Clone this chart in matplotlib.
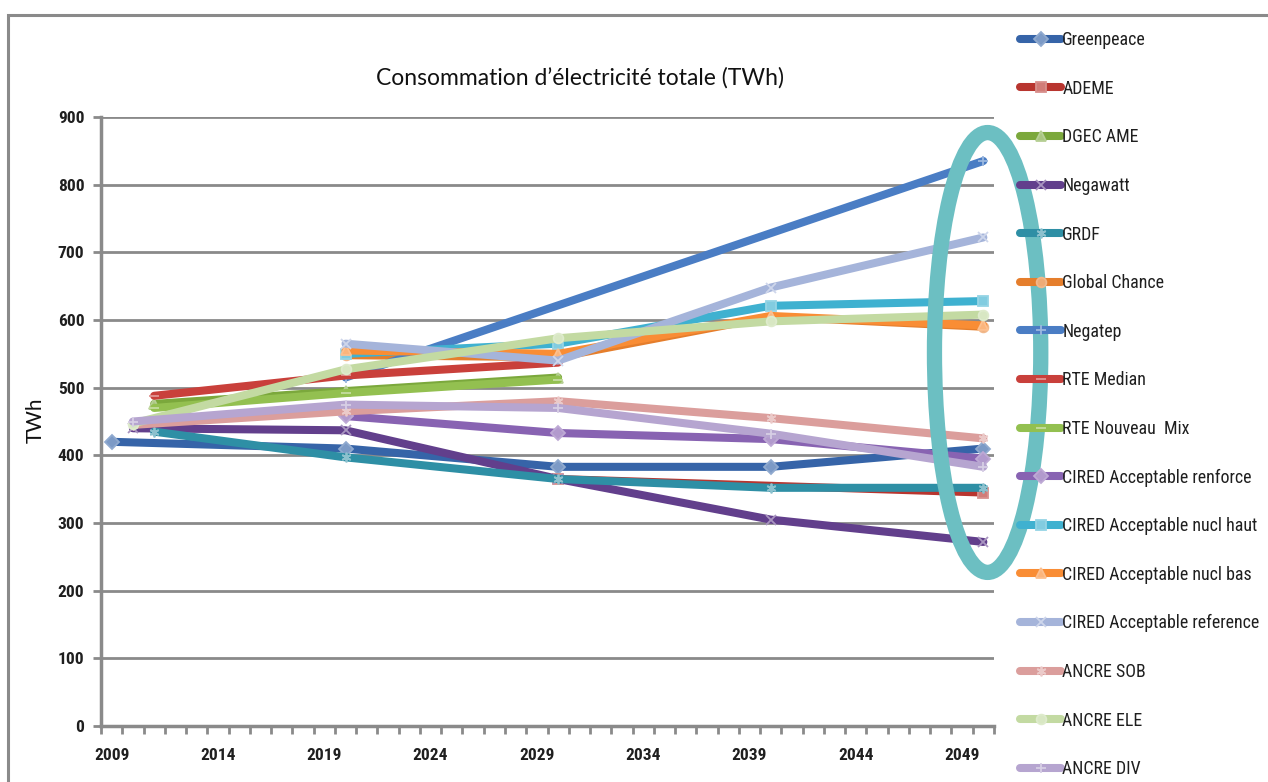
import numpy as np
import matplotlib
matplotlib.use("Agg")
import matplotlib.pyplot as plt
from matplotlib.patches import Ellipse, Rectangle
from matplotlib import font_manager as fm
from matplotlib.font_manager import FontProperties
from matplotlib.colors import to_rgb

# ---------------- data ----------------
years = [2009, 2010, 2011, 2020, 2030, 2040, 2050]
nan = np.nan
greenpeace      = [420, nan, nan, 410, 383, 383, 410]
ademe           = [nan, nan, nan, nan, 365, nan, 345]
dgec_ame        = [nan, nan, 476, 495, 515, nan, nan]
negawatt        = [nan, 440, nan, 437, 365, 305, 272]
grdf            = [nan, nan, 435, 397, 365, 352, 352]
global_chance   = [nan, nan, nan, 548, 545, 605, 590]
negatep         = [nan, nan, nan, 515, nan, nan, 835]
rte_median      = [nan, nan, 488, 518, 537, nan, nan]
rte_nouveau_mix = [nan, nan, 470, 492, 512, nan, nan]
cired_renforce  = [nan, nan, nan, 458, 433, 424, 395]
cired_nucl_haut = [nan, nan, nan, 550, 565, 621, 628]
cired_nucl_bas  = [nan, nan, nan, 555, 550, 606, 592]
cired_reference = [nan, nan, nan, 565, 540, 648, 722]
ancre_sob       = [nan, 445, nan, 465, 480, 455, 425]
ancre_ele       = [nan, 447, nan, 527, 573, 598, 608]
ancre_div       = [nan, 450, nan, 475, 470, 432, 383]

series_names = ["Greenpeace", "ADEME", "DGEC AME", "Negawatt", "GRDF", "Global Chance",
                "Negatep", "RTE Median", "RTE Nouveau  Mix", "CIRED Acceptable renforce",
                "CIRED Acceptable nucl haut", "CIRED Acceptable nucl bas",
                "CIRED Acceptable reference", "ANCRE SOB", "ANCRE ELE", "ANCRE DIV"]
series_values = [greenpeace, ademe, dgec_ame, negawatt, grdf, global_chance, negatep,
                 rte_median, rte_nouveau_mix, cired_renforce, cired_nucl_haut,
                 cired_nucl_bas, cired_reference, ancre_sob, ancre_ele, ancre_div]

title = "Consommation d\u2019\u00e9lectricit\u00e9 totale (TWh)"
y_ticks = list(range(0, 901, 100))
x_label_years = list(range(2009, 2050, 5))

# ---------------- styles ----------------
colors = ["#3664A8", "#B8352F", "#7BA83C", "#623F8C", "#2E8FA5", "#E57E2C",
          "#4A7DC4", "#C9403B", "#93C050", "#8863B2", "#3FB1D0", "#F98D35",
          "#A5B4DA", "#DB9E9C", "#C3DAA2", "#B6A5D0"]
markers = ["D", "s", "^", "x", (6, 2, 0), "o", "+", "_", "_",
           "D", "s", "^", "x", (6, 2, 0), "o", "+"]


def lighten(c, f):
    r, g, b = to_rgb(c)
    return (r + (1 - r) * f, g + (1 - g) * f, b + (1 - b) * f)


names = {f.name for f in fm.fontManager.ttflist}


def pick_condensed():
    for fam in ["Liberation Sans Narrow", "Roboto Condensed", "Open Sans Condensed",
                "Noto Sans Condensed", "DejaVu Sans Condensed", "Arial Narrow"]:
        if fam in names:
            return FontProperties(family=fam), True
    cands = []
    for f in fm.fontManager.ttflist:
        st = str(f.stretch)
        if (st in ("condensed", "semi-condensed", "extra-condensed")
                or "Condensed" in f.fname or "Narrow" in f.fname):
            if f.style == "normal":
                cands.append(f)
    pref = ["Liberation Sans Narrow", "Roboto", "Open Sans", "Noto Sans", "DejaVu Sans"]
    for p in pref:
        for f in cands:
            if f.name.startswith(p) and f.weight in (400, "normal", "regular"):
                return FontProperties(fname=f.fname), True
    for f in cands:
        return FontProperties(fname=f.fname), True
    return FontProperties(family="Lato" if "Lato" in names else "DejaVu Sans"), False


cond_fp, is_cond = pick_condensed()
title_font = "Lato" if "Lato" in names else "DejaVu Sans"

W, H = 1268, 782
fig = plt.figure(figsize=(W / 100, H / 100), dpi=100)
fig.patch.set_facecolor("white")

# outer chart frame
fig.add_artist(Rectangle((8 / W, -0.05), 1.2, 1 - 15 / H + 0.05, transform=fig.transFigure,
                         fill=False, ec="#8a8a8a", lw=2.2))

ax = fig.add_axes([101 / W, 56 / H, 893 / W, 609 / H])
ax.set_xlim(2008.5, 2050.5)
ax.set_ylim(0, 900)

for name, vals, c, m in zip(series_names, series_values, colors, markers):
    v = np.array(vals, dtype=float)
    x = np.array(years, dtype=float)
    ok = ~np.isnan(v)
    ax.plot(x[ok], v[ok], color=c, lw=5.8, marker=m, ms=7, mew=1.3,
            mfc=lighten(c, 0.35), mec=lighten(c, 0.45),
            solid_joinstyle="round", solid_capstyle="round", label=name)

# axes styling
for s in ["top", "right"]:
    ax.spines[s].set_visible(False)
for s in ["left", "bottom"]:
    ax.spines[s].set_color("#8a8a8a")
    ax.spines[s].set_linewidth(2.5)
ax.set_yticks(y_ticks)
ax.yaxis.grid(True, color="#8a8a8a", lw=2.0)
ax.set_axisbelow(True)
tick_size = 12.5 if is_cond else 11.5
ax.tick_params(axis="y", length=6, width=2, color="#8a8a8a", pad=6, labelcolor="#1f1f1f")
ax.set_xticks(x_label_years)
ax.set_xticklabels([str(y) for y in x_label_years])
ax.set_xticks(np.arange(2008.5, 2051, 1.0), minor=True)
ax.tick_params(axis="x", which="major", length=0, pad=16, labelcolor="#1f1f1f")
ax.tick_params(axis="x", which="minor", length=6, width=2, color="#8a8a8a")
for lab in ax.get_xticklabels() + ax.get_yticklabels():
    lab.set_fontproperties(cond_fp)
    lab.set_fontsize(tick_size)
    lab.set_fontweight("bold")

# highlight ellipse around 2050
ax.add_patch(Ellipse((2050.2, 552), width=5.0, height=650, fill=False,
                     ec="#6CBFC2", lw=11, clip_on=False, zorder=20))

fig.text(580 / W, 1 - 78 / H, title, ha="center", va="center", fontsize=16.5,
         family=title_font, color="#111111")
fig.text(36 / W, 1 - 420 / H, "TWh", rotation=90, ha="center", va="center",
         fontsize=15, family=title_font, color="#111111")

# legend: fit the width and match the row pitch of the reference
target_pitch = 48.6
leg_size = 13.5 if is_cond else 12.0
spacing = 1.9
renderer = fig.canvas.get_renderer()
for it in range(8):
    fp = cond_fp.copy()
    fp.set_size(leg_size)
    fs_px = leg_size * 100 / 72
    leg = fig.legend(loc="upper left", bbox_to_anchor=(1013 / W, 1 - 24 / H),
                     frameon=False, handlelength=41 / fs_px, labelspacing=spacing,
                     handletextpad=1 / fs_px, borderaxespad=0, prop=fp)
    for t in leg.get_texts():
        t.set_color("#1f1f1f")
    fig.canvas.draw()
    texts = leg.get_texts()
    right = max(t.get_window_extent(renderer).x1 for t in texts)
    y0 = texts[0].get_window_extent(renderer).y0
    y1 = texts[-1].get_window_extent(renderer).y0
    pitch = (y0 - y1) / (len(texts) - 1)
    changed = False
    if right > W - 8:
        leg_size *= (W - 8 - 1062) / (right - 1062)
        changed = True
    if abs(pitch - target_pitch) > 0.3:
        spacing += (target_pitch - pitch) / fs_px
        changed = True
    if not changed:
        break
    leg.remove()

fig.savefig("out.png", dpi=100, facecolor="white")
